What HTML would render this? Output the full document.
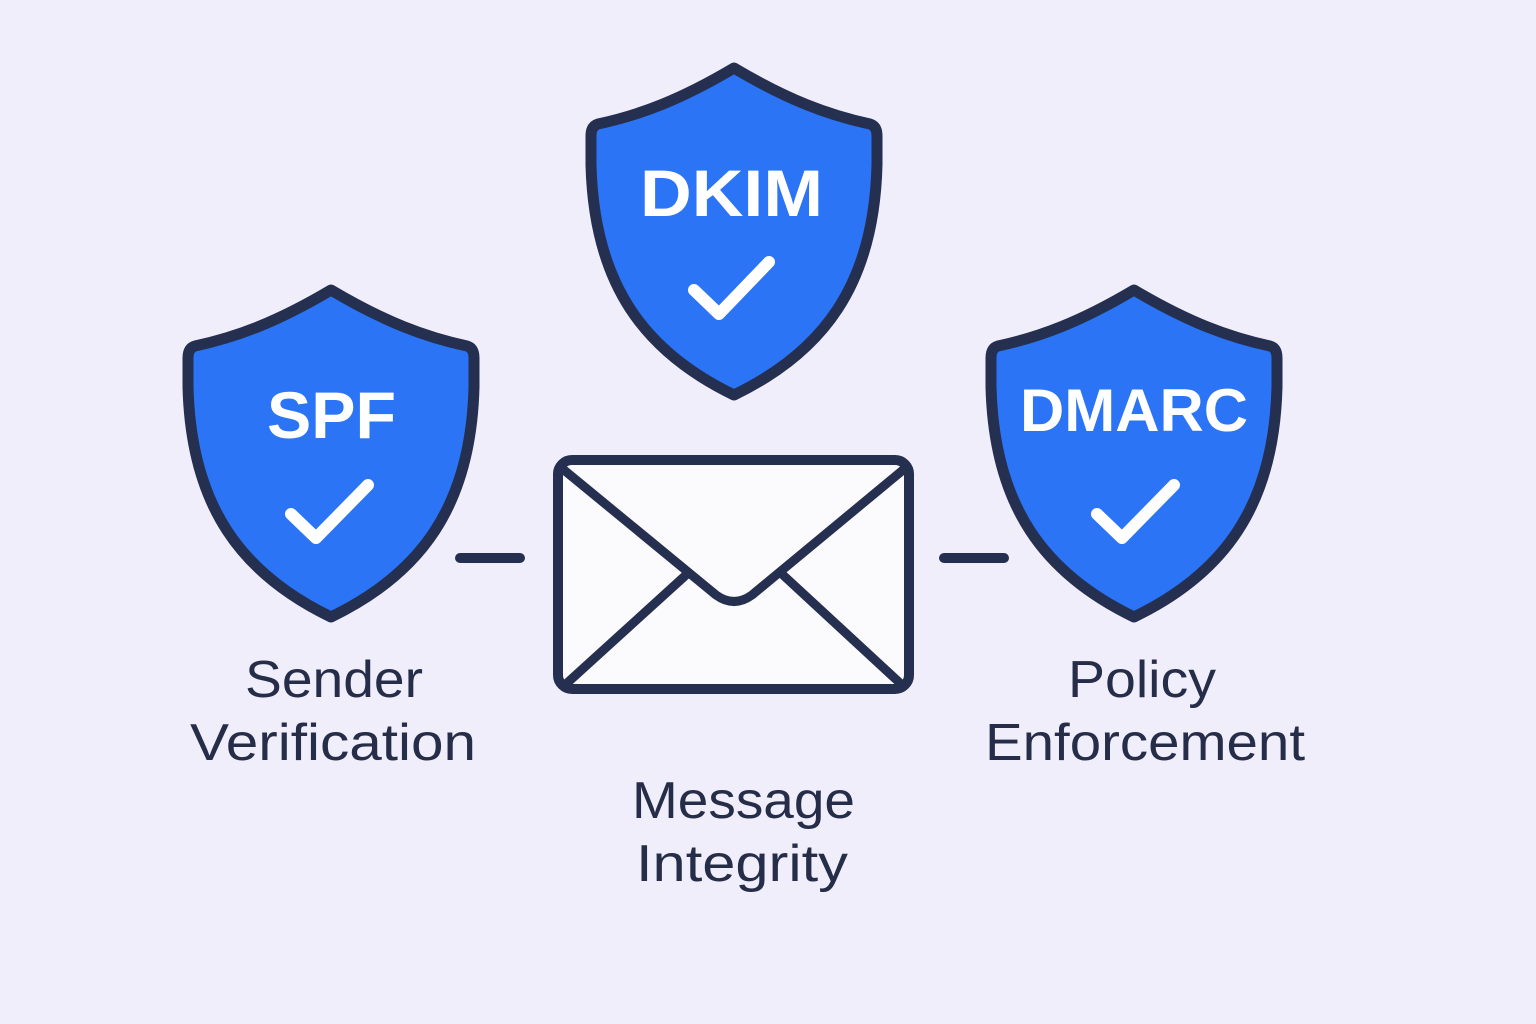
<!DOCTYPE html>
<html><head><meta charset="utf-8"><style>
html,body{margin:0;padding:0;background:#f1eefb;}
svg{display:block;}
</style></head><body>
<svg width="1536" height="1024" viewBox="0 0 1536 1024" xmlns="http://www.w3.org/2000/svg">
<rect width="1536" height="1024" fill="#f1eefb"/>
<defs>
<path id="sh" d="M734,68 C680,100 640,115 598,124 Q591,126 591,136 L591,165 C594,285 645,352 734,395 C823,352 874,285 877,165 L877,136 Q877,126 870,124 C828,115 788,100 734,68 Z"/>
</defs>
<g fill="#2a74f5" stroke="#252f4f" stroke-width="11" stroke-linejoin="round">
<use href="#sh"/>
<use href="#sh" transform="translate(-403,222)"/>
<use href="#sh" transform="translate(400,222)"/>
</g>
<g fill="none" stroke="#fff" stroke-width="12" stroke-linecap="round" stroke-linejoin="round">
<path d="M694,290 L719,314 L769,262"/>
<path d="M291,514 L316,538 L368,485"/>
<path d="M1097,514 L1122,538 L1174,485"/>
</g>
<g font-family="Liberation Sans, sans-serif" font-weight="bold" fill="#fff">
<text x="640" y="216" font-size="66" textLength="183" lengthAdjust="spacingAndGlyphs">DKIM</text>
<text x="267" y="438" font-size="66" textLength="129" lengthAdjust="spacingAndGlyphs">SPF</text>
<text x="1020" y="431" font-size="60" textLength="228" lengthAdjust="spacingAndGlyphs">DMARC</text>
</g>
<g stroke="#252f4f" stroke-width="10" stroke-linecap="round" fill="none">
<line x1="460" y1="558" x2="520" y2="558"/>
<line x1="944" y1="558" x2="1004" y2="558"/>
</g>
<rect x="558" y="460" width="351" height="229" rx="14" fill="#fbfbfd" stroke="#252f4f" stroke-width="10"/>
<g stroke="#252f4f" stroke-width="9" fill="none" stroke-linecap="round" stroke-linejoin="round">
<path d="M564,470 L716,595 Q734,608 752,595 L903,470"/>
<path d="M566,684 L686,575"/>
<path d="M901,684 L783,575"/>
</g>
<g font-family="Liberation Sans, sans-serif" fill="#262d48" font-size="52" lengthAdjust="spacingAndGlyphs">
<text x="245" y="697" textLength="178" lengthAdjust="spacingAndGlyphs">Sender</text>
<text x="190" y="760" textLength="286" lengthAdjust="spacingAndGlyphs">Verification</text>
<text x="1068" y="697" textLength="148" lengthAdjust="spacingAndGlyphs">Policy</text>
<text x="985" y="760" textLength="320" lengthAdjust="spacingAndGlyphs">Enforcement</text>
<text x="632" y="818" textLength="223" lengthAdjust="spacingAndGlyphs">Message</text>
<text x="636" y="881" textLength="212" lengthAdjust="spacingAndGlyphs">Integrity</text>
</g>
</svg>
</body></html>
